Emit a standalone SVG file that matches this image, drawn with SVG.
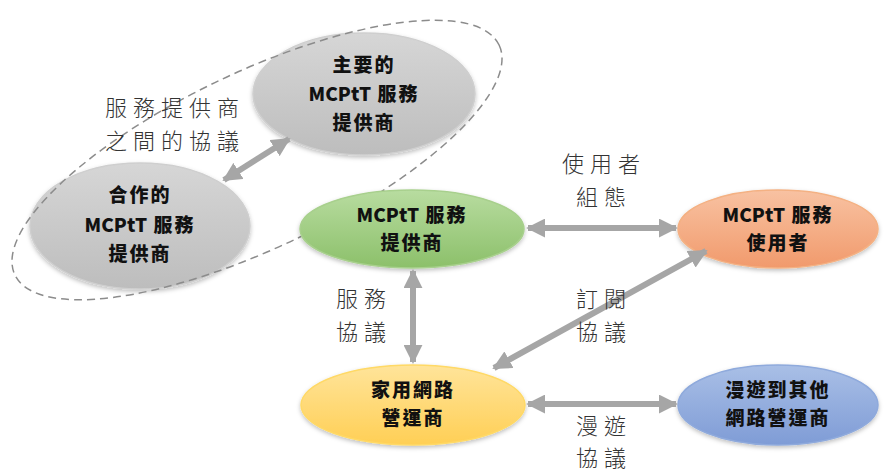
<svg xmlns="http://www.w3.org/2000/svg" width="891" height="474" viewBox="0 0 891 474">
<defs>
<style>
.node{stroke-width:1.5}
.nt{font-family:"Noto Sans CJK TC","Noto Sans CJK SC",sans-serif;font-weight:900;font-size:19px;fill:#111;text-anchor:middle;letter-spacing:2px}
.la{letter-spacing:0}
.lb{font-family:"Noto Sans CJK TC","Noto Sans CJK SC",sans-serif;font-weight:300;font-size:22px;fill:#333;text-anchor:middle;letter-spacing:6px}
.con{stroke:#a6a6a6;stroke-width:6;fill:none;marker-start:url(#ah);marker-end:url(#ah)}
</style>
<marker id="ah" viewBox="0 0 10 10" refX="9" refY="5" markerUnits="userSpaceOnUse" markerWidth="19" markerHeight="19" orient="auto-start-reverse">
<path d="M0,0 L10,5 L0,10 Z" fill="#a6a6a6"/>
</marker>
<linearGradient id="gGray" x1="0" y1="0" x2="0" y2="1"><stop offset="0" stop-color="#d6d6d6"/><stop offset="1" stop-color="#bdbdbd"/></linearGradient>
<linearGradient id="gGreen" x1="0" y1="0" x2="0" y2="1"><stop offset="0" stop-color="#b8dca0"/><stop offset="1" stop-color="#8cc06a"/></linearGradient>
<linearGradient id="gOrange" x1="0" y1="0" x2="0" y2="1"><stop offset="0" stop-color="#f8c2a2"/><stop offset="1" stop-color="#f19a6c"/></linearGradient>
<linearGradient id="gYellow" x1="0" y1="0" x2="0" y2="1"><stop offset="0" stop-color="#ffe49a"/><stop offset="1" stop-color="#ffcf55"/></linearGradient>
<linearGradient id="gBlue" x1="0" y1="0" x2="0" y2="1"><stop offset="0" stop-color="#a9bfe6"/><stop offset="1" stop-color="#7f9cd6"/></linearGradient>
<filter id="sh" x="-10%" y="-10%" width="120%" height="130%"><feDropShadow dx="0" dy="2" stdDeviation="2" flood-color="#000" flood-opacity="0.25"/></filter>
</defs>
<rect width="891" height="474" fill="#fff"/>

<g id="coop-provider">
<ellipse class="node" cx="140" cy="226" rx="110" ry="63" fill="url(#gGray)" stroke="#cfcfcf" filter="url(#sh)"/>
<text class="nt" x="140" y="202">合作的</text>
<text class="nt" x="140" y="232"><tspan class="la">MCPtT</tspan> 服務</text>
<text class="nt" x="140" y="261">提供商</text>
</g>
<g id="main-provider">
<ellipse class="node" cx="364" cy="94" rx="111" ry="61" fill="url(#gGray)" stroke="#cfcfcf" filter="url(#sh)"/>
<text class="nt" x="364" y="72">主要的</text>
<text class="nt" x="364" y="101"><tspan class="la">MCPtT</tspan> 服務</text>
<text class="nt" x="364" y="130">提供商</text>
</g>
<g id="group-boundary">
<ellipse cx="257" cy="160" rx="268" ry="88" transform="rotate(-25.4 257 160)" fill="none" stroke="#8c8c8c" stroke-width="1.5" stroke-dasharray="8 5"/>
</g>
<g id="provider">
<ellipse class="node" cx="412" cy="229" rx="112" ry="39" fill="url(#gGreen)" stroke="#a8d08d" filter="url(#sh)"/>
<text class="nt" x="412" y="222"><tspan class="la">MCPtT</tspan> 服務</text>
<text class="nt" x="412" y="250">提供商</text>
</g>
<g id="user">
<ellipse class="node" cx="778" cy="229" rx="100" ry="39" fill="url(#gOrange)" stroke="#f4b183" filter="url(#sh)"/>
<text class="nt" x="778" y="222"><tspan class="la">MCPtT</tspan> 服務</text>
<text class="nt" x="778" y="250">使用者</text>
</g>
<g id="home-operator">
<ellipse class="node" cx="413" cy="405" rx="112" ry="40" fill="url(#gYellow)" stroke="#ffd966" filter="url(#sh)"/>
<text class="nt" x="413" y="397">家用網路</text>
<text class="nt" x="413" y="425">營運商</text>
</g>
<g id="roaming-operator">
<ellipse class="node" cx="778" cy="405" rx="100" ry="40" fill="url(#gBlue)" stroke="#8faadc" filter="url(#sh)"/>
<text class="nt" x="778" y="397">漫遊到其他</text>
<text class="nt" x="778" y="425">網路營運商</text>
</g>

<g id="connectors">
<line class="con" x1="224" y1="180" x2="289" y2="139"/>
<line class="con" x1="528" y1="228" x2="676" y2="228"/>
<line class="con" x1="413" y1="271" x2="413" y2="362"/>
<line class="con" x1="494" y1="368" x2="706" y2="251"/>
<line class="con" x1="528" y1="404" x2="676" y2="404"/>
</g>

<g id="labels">
<text class="lb" x="175" y="116">服務提供商</text>
<text class="lb" x="175" y="149">之間的協議</text>
<text class="lb" x="604" y="172">使用者</text>
<text class="lb" x="604" y="205">組態</text>
<text class="lb" x="364" y="307">服務</text>
<text class="lb" x="364" y="340">協議</text>
<text class="lb" x="604" y="307">訂閱</text>
<text class="lb" x="604" y="340">協議</text>
<text class="lb" x="604" y="434">漫遊</text>
<text class="lb" x="604" y="466">協議</text>
</g>
</svg>
